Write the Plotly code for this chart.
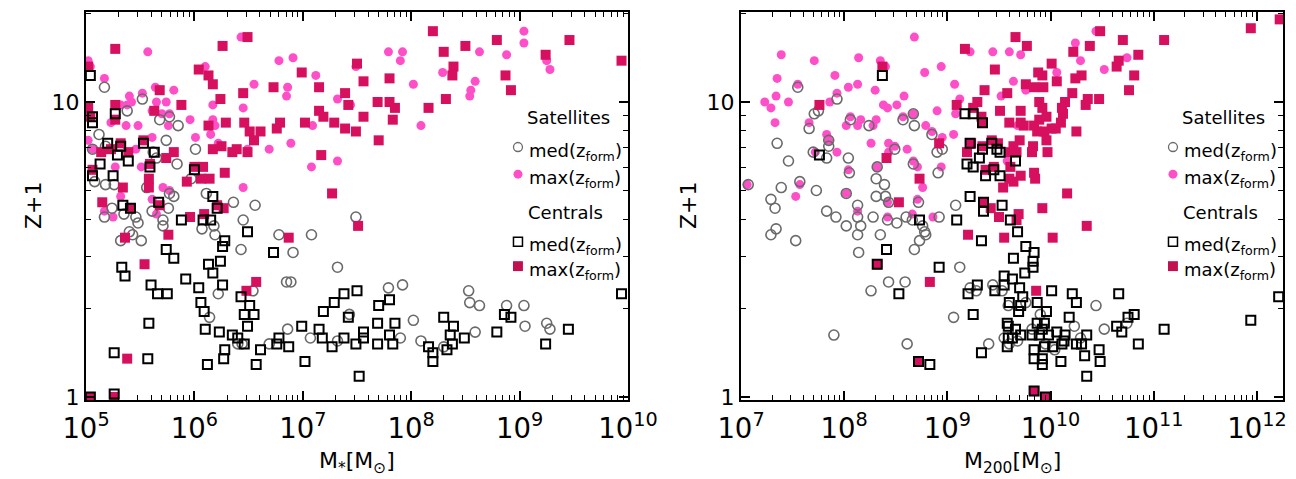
import numpy as np
import plotly.graph_objects as go

# ---------------- data (log10 values) ----------------
# Left panel: x = log10(M*/Msun), y = log10(z+1)
L_sat_max_x = [6.43,5.57,6.78,6.91,6.10,7.12,5.17,6.55,6.86,6.85,5.64,5.81,5.52,5.40,7.32,7.49,5.65,5.74,5.42,5.38,
               5.32,6.17,6.45,5.61,5.70,5.77,5.96,6.17,6.19,6.15,5.76,5.48,5.37,5.23,7.09,5.61,6.01,6.89,6.69,6.22,
               6.49,5.46,7.32,7.08,5.51,5.27,6.45,5.71,5.77,5.32,5.61,5.04,5.02,5.02,5.06,9.04,9.04,7.79,7.92,7.90,
               8.63,8.88,9.25,9.28,8.29,8.59,8.55,8.54,8.02,8.09,7.44,5.17,5.25,5.65]
L_sat_max_y = [1.22,1.17,1.14,1.15,1.12,1.09,1.08,1.06,1.05,1.02,1.05,1.04,1.03,1.02,1.01,1.12,1.00,1.00,1.00,0.99,
               0.99,0.99,0.98,0.97,0.96,0.96,0.94,0.94,0.92,0.89,0.92,0.92,0.92,0.93,0.92,0.88,0.88,0.86,0.84,0.86,
               0.84,0.84,0.80,0.78,0.78,0.78,0.71,0.71,0.70,0.68,0.67,1.12,1.14,0.87,0.84,1.24,1.20,1.17,1.17,1.14,
               1.17,1.16,1.14,1.11,1.10,1.07,1.04,1.02,1.06,0.92,0.99,0.63,0.61,0.62]

L_sat_med_x = [5.17,5.52,5.38,5.68,5.77,5.12,5.85,5.74,6.01,5.06,5.62,5.65,5.84,5.97,6.11,5.81,5.77,6.36,5.26,5.18,
               5.08,5.56,6.56,5.18,5.24,5.17,5.35,5.46,5.48,5.40,5.43,5.32,5.51,5.61,5.71,5.76,5.71,6.07,6.18,6.19,
               6.45,6.43,6.22,6.14,6.54,6.78,6.91,7.08,6.85,6.89,7.32,7.43,6.86,6.69,7.07,7.32,6.40,6.44,7.49,7.79,
               7.92,8.53,8.54,8.63,8.88,9.04,8.02,7.90,8.09,8.59,9.05,9.25,9.28,8.30]
L_sat_med_y = [1.05,1.01,0.97,0.94,0.95,0.89,0.92,0.87,0.84,0.84,0.83,0.81,0.79,0.74,0.69,0.68,0.69,0.66,0.72,0.72,
               0.73,0.71,0.65,0.85,0.64,0.61,0.62,0.61,0.59,0.56,0.55,0.53,0.53,0.63,0.60,0.64,0.58,0.57,0.58,0.55,
               0.60,0.50,0.35,0.27,0.36,0.55,0.49,0.55,0.39,0.39,0.44,0.28,0.23,0.18,0.20,0.19,0.18,0.18,0.61,0.37,
               0.38,0.36,0.32,0.31,0.31,0.31,0.26,0.20,0.19,0.22,0.24,0.25,0.23,0.17]

L_cen_max_x = [6.49,5.27,6.26,6.04,7.50,6.13,6.17,6.99,6.73,7.15,5.68,6.45,7.39,7.42,6.24,5.88,5.27,5.63,7.15,7.19,
               5.27,6.13,6.29,6.46,6.79,6.76,7.02,7.29,7.39,7.49,6.51,6.61,6.55,6.17,6.25,6.35,6.39,6.49,5.81,7.17,
               5.53,5.04,5.14,5.23,5.32,5.39,5.74,5.59,6.08,6.00,6.28,6.06,6.14,5.58,5.93,5.34,5.58,7.27,5.06,5.15,
               6.21,5.02,5.02,5.41,5.68,5.96,6.09,6.27,5.36,5.76,5.54,5.38,5.26,5.04,6.87,6.57,6.48,7.51,
               8.20,8.30,8.50,8.79,9.46,9.24,9.94,7.56,7.80,8.39,8.38,8.87,8.92,7.69,7.80,7.85,8.16,8.32,7.56,7.83,7.70]
L_cen_max_y = [1.22,1.18,1.19,1.11,1.13,1.09,1.06,1.10,1.05,1.05,1.04,1.03,1.03,0.99,1.01,0.99,0.99,0.97,0.97,0.95,
               0.94,0.92,0.93,0.93,0.93,0.91,0.93,0.93,0.91,0.90,0.90,0.90,0.87,0.84,0.85,0.83,0.84,0.83,0.83,0.82,
               0.87,0.95,0.83,0.84,0.86,0.83,0.81,0.79,0.78,0.78,0.76,0.74,0.74,0.74,0.73,0.71,0.71,0.69,0.77,0.66,
               0.65,1.12,0.98,0.64,0.65,0.61,0.62,0.64,0.54,0.55,0.45,0.13,0.00,0.00,0.54,0.39,0.36,0.58,
               1.24,1.17,1.19,1.21,1.21,1.16,1.14,1.07,1.08,1.12,1.09,1.09,1.04,1.00,1.00,0.98,0.98,1.01,0.95,0.94,0.87]

L_cen_med_x = [5.04,5.27,5.06,5.32,5.20,5.63,5.53,5.29,5.39,5.13,5.59,5.25,6.00,6.17,5.06,5.34,5.67,5.06,5.41,5.88,
               6.08,6.15,6.21,6.49,6.28,6.26,5.74,5.81,5.33,5.36,6.13,6.17,6.24,5.92,5.60,5.66,5.75,6.04,6.26,6.43,
               6.51,6.55,6.46,6.06,6.09,5.58,6.10,6.23,6.49,6.35,6.40,6.46,6.28,6.27,6.61,6.12,6.57,5.26,5.57,6.73,
               6.78,6.76,6.87,6.99,7.02,7.15,7.18,7.19,7.29,7.38,7.42,7.27,7.38,7.49,7.50,7.52,5.26,5.04,7.70,7.80,
               7.69,7.85,7.56,7.56,7.69,7.83,7.80,8.16,8.20,8.20,8.30,8.36,8.39,8.38,8.33,8.49,8.79,8.86,8.92,9.24,
               9.45,9.94]
L_cen_med_y = [1.09,0.96,0.93,0.85,0.86,0.83,0.86,0.82,0.80,0.79,0.78,0.75,0.77,0.68,0.75,0.65,0.66,0.95,0.64,0.60,
               0.60,0.60,0.64,0.56,0.53,0.51,0.50,0.47,0.44,0.41,0.45,0.42,0.46,0.40,0.38,0.35,0.35,0.37,0.38,0.34,
               0.31,0.28,0.28,0.32,0.29,0.25,0.23,0.22,0.24,0.21,0.20,0.18,0.16,0.13,0.16,0.11,0.11,0.15,0.13,0.49,
               0.20,0.18,0.17,0.24,0.12,0.23,0.20,0.29,0.32,0.35,0.27,0.17,0.20,0.18,0.36,0.07,0.01,0.00,0.31,0.33,
               0.25,0.25,0.22,0.20,0.18,0.18,0.21,0.17,0.15,0.12,0.27,0.21,0.24,0.18,0.16,0.20,0.22,0.28,0.27,0.18,
               0.23,0.35]

# Right panel: x = log10(M200/Msun), y = log10(z+1)
R_sat_max_x = [8.68,7.39,7.71,8.14,8.35,8.40,8.94,8.78,7.91,7.35,7.55,8.13,8.04,9.07,9.22,9.44,9.60,9.64,9.52,9.12,
               8.58,8.30,7.93,7.86,7.34,7.46,7.23,7.29,8.38,8.42,8.51,8.90,9.08,7.33,7.66,8.06,8.02,8.13,8.16,8.31,
               8.28,8.67,8.57,8.79,8.85,9.06,8.95,8.26,8.43,8.49,8.43,8.61,7.83,7.85,7.93,7.72,8.71,8.32,8.94,8.76,
               7.57,8.04,8.02,7.53,7.06,8.67,8.42,8.42,8.13,8.71,8.66,8.86,10.44,10.24,9.71,10.29,10.74,10.52,10.06,9.76,
               9.68,9.58]
R_sat_max_y = [1.22,1.16,1.14,1.15,1.14,1.12,1.12,1.10,1.09,1.08,1.06,1.06,1.05,1.06,1.17,1.17,1.17,1.07,1.02,1.01,
               1.02,1.04,1.03,1.00,1.02,1.00,1.00,0.98,0.99,0.98,0.99,0.97,0.96,0.93,0.93,0.95,0.92,0.92,0.94,0.94,
               0.92,0.96,0.95,0.92,0.90,0.89,0.88,0.86,0.86,0.85,0.83,0.84,0.89,0.87,0.83,0.83,0.78,0.78,0.78,0.71,
               0.72,0.77,0.69,0.68,0.72,0.80,0.66,0.61,0.63,0.67,0.62,0.61,1.24,1.20,1.16,1.14,1.15,1.11,1.10,1.04,
               0.92,0.80]

R_sat_med_x = [7.55,7.93,7.75,7.71,8.06,7.66,8.24,8.57,8.68,8.67,8.85,7.35,7.85,7.85,7.70,7.83,8.04,8.49,8.90,8.95,
               7.46,8.32,8.05,8.67,8.91,7.07,7.57,7.39,7.73,8.31,8.39,8.02,7.29,8.31,8.40,8.43,8.72,9.08,8.13,7.33,
               7.83,7.92,8.13,8.28,8.42,8.51,8.60,8.66,8.76,8.78,8.79,8.73,8.68,8.92,7.29,7.34,7.53,8.02,8.16,8.13,
               8.14,8.35,8.43,8.59,8.26,9.12,9.22,9.28,9.44,9.53,9.06,7.90,8.61,9.40,9.55,9.60,10.44,10.23,10.52,10.74,
               9.59,9.76,9.90,9.82,9.68,10.29,10.04,9.95]
R_sat_med_y = [1.05,1.01,0.97,0.96,0.94,0.91,0.92,0.94,0.92,0.96,0.89,0.86,0.87,0.85,0.83,0.81,0.81,0.84,0.83,0.84,
               0.80,0.78,0.76,0.79,0.76,0.72,0.73,0.71,0.70,0.74,0.72,0.69,0.67,0.68,0.68,0.66,0.66,0.65,0.65,0.64,
               0.63,0.61,0.61,0.61,0.60,0.59,0.61,0.60,0.58,0.56,0.55,0.53,0.50,0.61,0.55,0.57,0.53,0.58,0.58,0.55,
               0.49,0.55,0.39,0.39,0.36,0.44,0.37,0.36,0.38,0.36,0.27,0.21,0.18,0.18,0.20,0.18,0.31,0.24,0.23,0.25,
               0.31,0.32,0.28,0.23,0.19,0.20,0.16,0.18]

R_cen_max_x = [9.17,9.46,8.37,9.36,9.58,7.76,9.09,9.29,9.25,9.51,9.33,9.34,9.60,9.66,8.92,9.19,9.23,9.34,9.43,9.49,
               9.60,9.61,9.45,9.37,9.60,9.54,8.41,8.73,8.53,9.35,9.42,9.50,8.32,8.72,8.83,9.20,9.55,12.22,11.94,10.48,
               9.77,10.70,11.10,10.38,10.22,10.85,10.66,10.64,10.01,9.88,9.92,10.30,10.24,10.81,9.76,9.84,9.93,10.06,10.76,10.21,
               10.36,10.34,10.47,9.89,9.92,10.14,10.11,9.71,9.96,10.12,10.10,9.71,9.74,9.84,9.89,9.87,9.94,10.01,10.05,10.25,
               9.70,9.96,9.83,9.82,9.64,9.67,9.97,9.84,9.85,9.71,9.64,10.16,9.69,9.67,9.92,10.35,10.02,9.86,9.84,9.95]
R_cen_max_y = [1.18,1.11,1.12,1.04,1.03,0.99,0.99,1.00,0.98,0.97,0.95,0.93,0.93,1.22,0.86,0.83,0.86,0.85,0.87,0.86,
               0.83,0.78,0.78,0.77,0.74,0.71,0.81,0.74,0.66,0.66,0.64,0.61,0.45,0.12,0.39,0.55,0.54,1.28,1.25,1.24,
               1.19,1.21,1.21,1.19,1.17,1.16,1.14,1.12,1.13,1.10,1.09,1.09,1.08,1.09,1.06,1.05,1.05,1.07,1.04,1.03,
               1.01,0.99,1.01,1.00,0.98,1.00,0.98,0.97,0.95,0.96,0.93,0.93,0.92,0.92,0.94,0.90,0.90,0.91,0.91,0.90,
               0.87,0.87,0.85,0.83,0.85,0.83,0.83,0.76,0.74,0.75,0.73,0.69,0.62,0.60,0.64,0.58,0.54,0.36,0.02,0.00]

R_cen_med_x = [8.37,9.17,9.25,9.34,9.22,9.34,9.43,9.48,9.51,9.31,9.19,9.25,9.45,9.51,9.37,7.76,9.22,9.35,9.53,9.66,
               9.35,8.73,9.09,9.33,9.61,8.41,8.32,8.92,8.53,9.20,9.29,9.46,9.55,9.55,9.64,9.63,9.25,9.60,9.58,9.63,
               9.58,9.33,8.72,8.83,9.68,9.76,9.84,9.83,9.83,9.75,9.70,10.01,10.21,10.25,10.66,9.73,9.71,9.69,9.87,9.96,
               10.18,10.81,10.75,10.64,10.69,9.87,9.94,9.92,11.10,9.59,9.66,9.59,9.71,9.82,9.89,9.98,10.06,10.14,10.13,10.11,
               10.02,10.25,10.30,10.35,10.47,9.94,9.84,9.84,9.92,9.92,10.10,10.33,10.48,10.35,10.85,11.94,12.21,9.84,9.95]
R_cen_med_y = [1.09,0.96,0.96,0.93,0.86,0.84,0.86,0.84,0.83,0.81,0.79,0.78,0.77,0.75,0.75,0.82,0.68,0.66,0.65,0.80,
               0.63,0.60,0.60,0.53,0.60,0.50,0.45,0.44,0.35,0.35,0.38,0.36,0.38,0.41,0.47,0.40,0.28,0.32,0.25,0.20,
               0.17,0.15,0.12,0.11,0.56,0.51,0.49,0.46,0.44,0.42,0.37,0.36,0.35,0.32,0.35,0.34,0.31,0.29,0.32,0.29,
               0.27,0.28,0.27,0.24,0.22,0.25,0.25,0.23,0.23,0.24,0.23,0.20,0.21,0.21,0.21,0.21,0.22,0.21,0.19,0.18,
               0.17,0.18,0.18,0.21,0.16,0.17,0.16,0.13,0.13,0.11,0.12,0.14,0.12,0.07,0.18,0.26,0.34,0.02,0.00]

# ---------------- styling ----------------
PINK_C = "#ff4fc8"
PINK_S = "#d6105f"
PINK_LEG = "#c20f4f"
GRAY = "#6a6a6a"
FONT = "DejaVu Sans"

fig = go.Figure()

def add_panel(xa, ya, sat_max, sat_med, cen_max, cen_med):
    fig.add_trace(go.Scatter(x=10**np.array(sat_max[0]), y=10**np.array(sat_max[1]), mode="markers",
                             xaxis=xa, yaxis=ya, showlegend=False,
                             marker=dict(symbol="circle", size=9, color=PINK_C, line=dict(width=0))))
    fig.add_trace(go.Scatter(x=10**np.array(sat_med[0]), y=10**np.array(sat_med[1]), mode="markers",
                             xaxis=xa, yaxis=ya, showlegend=False,
                             marker=dict(symbol="circle-open", size=10, color=GRAY, line=dict(width=1.6, color=GRAY))))
    fig.add_trace(go.Scatter(x=10**np.array(cen_max[0]), y=10**np.array(cen_max[1]), mode="markers",
                             xaxis=xa, yaxis=ya, showlegend=False,
                             marker=dict(symbol="square", size=10, color=PINK_S, line=dict(width=0))))
    fig.add_trace(go.Scatter(x=10**np.array(cen_med[0]), y=10**np.array(cen_med[1]), mode="markers",
                             xaxis=xa, yaxis=ya, showlegend=False,
                             marker=dict(symbol="square-open", size=9, color="black", line=dict(width=2, color="black"))))

add_panel("x", "y", (L_sat_max_x, L_sat_max_y), (L_sat_med_x, L_sat_med_y),
          (L_cen_max_x, L_cen_max_y), (L_cen_med_x, L_cen_med_y))
add_panel("x2", "y2", (R_sat_max_x, R_sat_max_y), (R_sat_med_x, R_sat_med_y),
          (R_cen_max_x, R_cen_max_y), (R_cen_med_x, R_cen_med_y))

W, H = 1296, 479
ax_common = dict(type="log", showline=True, linewidth=2, linecolor="black", mirror="allticks",
                 ticks="inside", ticklen=9, tickwidth=1.5, tickcolor="black", automargin=False,
                 showgrid=False, zeroline=False, dtick=1, tick0=0,
                 minor=dict(ticks="inside", ticklen=5, tickwidth=1.2, tickcolor="black", dtick="D1", showgrid=False),
                 tickfont=dict(family=FONT, size=22, color="black"))

yrange = [-0.0102, 1.305]
fig.update_layout(
    width=W, height=H, autosize=False,
    margin=dict(l=0, r=0, t=0, b=0, autoexpand=False),
    paper_bgcolor="white", plot_bgcolor="white",
    xaxis=dict(ax_common, domain=[86/W, 628/W], range=[5, 10], exponentformat="power", showexponent="all",
               anchor="y", ticklabelstandoff=4),
    yaxis=dict(ax_common, domain=[1-400/H, 1-12/H], range=yrange, exponentformat="none", anchor="x"),
    xaxis2=dict(ax_common, domain=[741/W, 1283/W], range=[7, 12.252], exponentformat="power", showexponent="all",
                anchor="y2", ticklabelstandoff=4),
    yaxis2=dict(ax_common, domain=[1-400/H, 1-12/H], range=yrange, exponentformat="none", anchor="x2"),
)

# axis titles
tfont = dict(family=FONT, size=22, color="black")
fig.add_annotation(x=357/W, y=1-462/H, xref="paper", yref="paper", text="M<sub>*</sub>[M<sub>⊙</sub>]",
                   showarrow=False, font=tfont, xanchor="center", yanchor="middle")
fig.add_annotation(x=1012/W, y=1-462/H, xref="paper", yref="paper", text="M<sub>200</sub>[M<sub>⊙</sub>]",
                   showarrow=False, font=tfont, xanchor="center", yanchor="middle")
for xp in (33, 688):
    fig.add_annotation(x=xp/W, y=1-205/H, xref="paper", yref="paper", text="Z+1", textangle=-90,
                       showarrow=False, font=tfont, xanchor="center", yanchor="middle")

# in-plot legends
lfont = dict(family=FONT, size=18, color="black")
rx, ry = 4.5/542, 4.5/388
for xd, yd in (("x domain", "y domain"), ("x2 domain", "y2 domain")):
    mx = 0.797
    fig.add_annotation(x=0.89, y=0.727, xref=xd, yref=yd, text="Satellites", showarrow=False,
                       font=lfont, xanchor="center", yanchor="middle")
    fig.add_annotation(x=0.885, y=0.482, xref=xd, yref=yd, text="Centrals", showarrow=False,
                       font=lfont, xanchor="center", yanchor="middle")
    for yy in (0.652, 0.582, 0.408, 0.345):
        lbl = "med(z<sub>form</sub>)" if yy in (0.652, 0.408) else "max(z<sub>form</sub>)"
        fig.add_annotation(x=mx + 0.017, y=yy - 0.012, xref=xd, yref=yd, text=lbl, showarrow=False,
                           font=lfont, xanchor="left", yanchor="middle")
    fig.add_shape(type="circle", xref=xd, yref=yd, x0=mx-rx, x1=mx+rx, y0=0.652-ry, y1=0.652+ry,
                  line=dict(color=GRAY, width=1.3), fillcolor="rgba(0,0,0,0)")
    fig.add_shape(type="circle", xref=xd, yref=yd, x0=mx-rx, x1=mx+rx, y0=0.582-ry, y1=0.582+ry,
                  line=dict(width=0), fillcolor=PINK_C)
    fig.add_shape(type="rect", xref=xd, yref=yd, x0=mx-rx, x1=mx+rx, y0=0.408-ry, y1=0.408+ry,
                  line=dict(color="black", width=1.5), fillcolor="rgba(0,0,0,0)")
    fig.add_shape(type="rect", xref=xd, yref=yd, x0=mx-1.1*rx, x1=mx+1.1*rx, y0=0.345-1.1*ry, y1=0.345+1.1*ry,
                  line=dict(width=0), fillcolor=PINK_LEG)

fig.write_html("out.html")
